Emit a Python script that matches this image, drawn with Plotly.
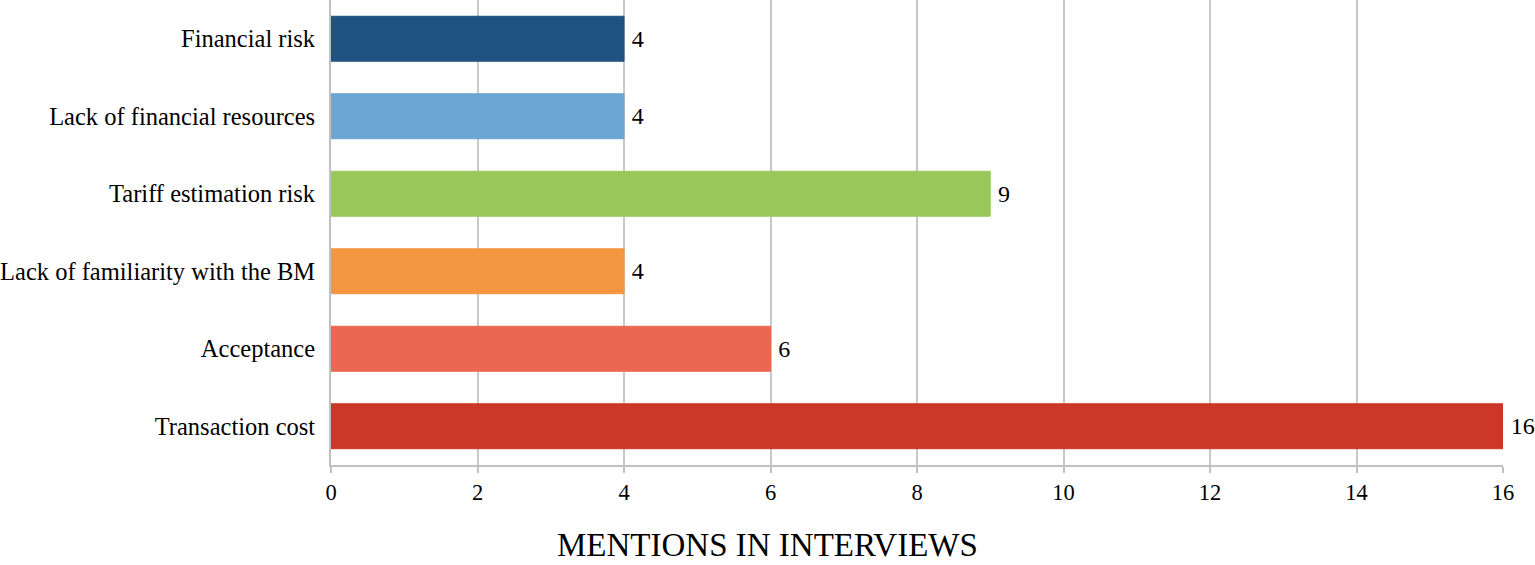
import plotly.graph_objects as go

categories = ["Financial risk", "Lack of financial resources", "Tariff estimation risk",
              "Lack of familiarity with the BM", "Acceptance", "Transaction cost"]
values = [4, 4, 9, 4, 6, 16]
colors = ["#1F5181", "#6CA6D4", "#9AC75A", "#F39642", "#EC6651", "#CC3727"]
tick_vals = [0, 2, 4, 6, 8, 10, 12, 14, 16]
x_title = "MENTIONS IN INTERVIEWS"

font_family = "Liberation Serif, Times New Roman, serif"

W, H = 1535, 565
L, R, T, B = 331, 32, 0, 100
plot_h = H - T - B
plot_w = W - L - R

fig = go.Figure(go.Bar(
    y=categories, x=values, orientation="h",
    marker=dict(color=colors, line=dict(color=colors, width=1)),
    width=0.58,
    text=[str(v) for v in values], texttemplate="\u2009%{text}", textposition="outside",
    textfont=dict(family=font_family, size=24, color="black"),
    constraintext="none",
    cliponaxis=False,
    hoverinfo="skip",
))

fig.update_layout(
    width=W, height=H,
    margin=dict(l=L, r=R, t=T, b=B),
    plot_bgcolor="white", paper_bgcolor="white",
    showlegend=False,
    font=dict(family=font_family, color="black"),
    xaxis=dict(
        range=[0, 16], tickvals=tick_vals, showgrid=True, gridcolor="#C8C8C8", gridwidth=2,
        zeroline=False, showline=True, linecolor="#C0C0C0", linewidth=2,
        ticks="outside", ticklen=6, tickcolor="#C0C0C0", tickwidth=2,
        tickfont=dict(size=22.5, family=font_family, color="black"),
    ),
    yaxis=dict(
        categoryorder="array", categoryarray=categories[::-1],
        showline=True, linecolor="#C0C0C0", linewidth=2, showgrid=False,
        ticks="", ticklabelstandoff=9,
        tickfont=dict(size=24.5, family=font_family, color="black"),
    ),
    annotations=[dict(
        text=x_title, xref="paper", yref="paper",
        x=(W / 2 - L) / plot_w, y=(plot_h - 545) / plot_h,
        xanchor="center", yanchor="middle", showarrow=False,
        font=dict(size=33, family=font_family, color="black"),
    )],
)

fig.write_html("out.html", config={"displayModeBar": False},
               post_script="document.body.style.margin='0';")
